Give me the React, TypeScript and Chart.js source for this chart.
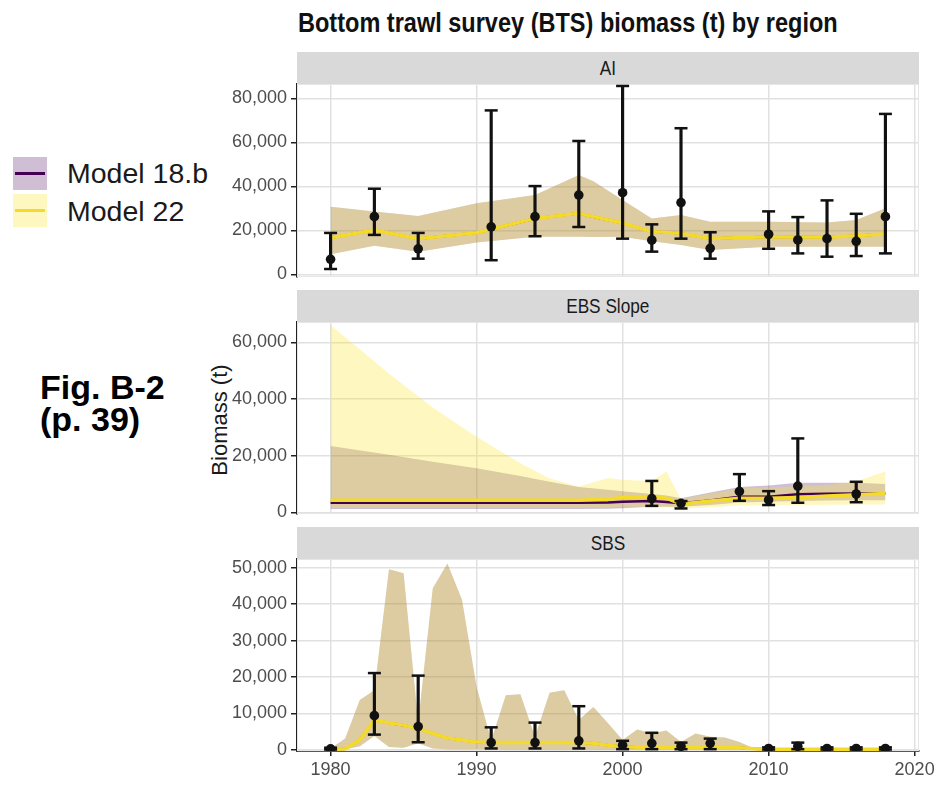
import React, { useEffect, useRef } from "react";
import { Chart, registerables } from "chart.js";

Chart.register(...registerables);

// ---------- Aleutian Islands (AI) ----------
const aiSurveyYears = [1980, 1983, 1986, 1991, 1994, 1997, 2000, 2002, 2004, 2006, 2010, 2012, 2014, 2016, 2018];
const aiSurveyBiomass = [6800, 26200, 11600, 21600, 26200, 36000, 37100, 15500, 32600, 11800, 18200, 15600, 16200, 15000, 26200];
const aiSurveyLow = [2400, 17900, 7100, 6400, 17300, 21500, 16200, 10300, 16200, 7100, 11600, 9500, 8000, 8300, 9500];
const aiSurveyHigh = [18800, 38900, 18800, 74500, 40100, 60600, 85600, 22700, 66400, 19100, 28600, 26000, 33600, 27500, 72900];

// The two model fits coincide in the AI region
const aiModelYears = [1980, 1983, 1986, 1990, 1994, 1997, 1998, 2000, 2002, 2004, 2006, 2010, 2014, 2016, 2018];
const aiModelFit = [16600, 20100, 16200, 18900, 25400, 27700, 26200, 23300, 19400, 18600, 16300, 17100, 16800, 17500, 18300];
const aiModelLow = [9100, 13000, 10300, 14400, 17100, 17100, 17000, 17100, 15000, 13300, 11000, 12500, 12500, 12500, 12500];
const aiModelHigh = [30700, 28500, 26500, 32300, 36000, 45100, 42300, 33800, 25400, 26900, 23900, 23900, 23600, 24700, 30000];

// ---------- Eastern Bering Sea slope ----------
const ebsSurveyYears = [2002, 2004, 2008, 2010, 2012, 2016];
const ebsSurveyBiomass = [4900, 3200, 7400, 4400, 9300, 6500];
const ebsSurveyLow = [2300, 1400, 4100, 2600, 3400, 3600];
const ebsSurveyHigh = [11100, 4000, 13500, 7500, 26100, 10800];

const ebsModelYears = [1980, 1984, 1987, 1990, 1993, 1995, 1997, 1999, 2000, 2002, 2003, 2004, 2006, 2008, 2010, 2012, 2014, 2016, 2018];
const ebsFit18b = [3400, 3400, 3400, 3400, 3400, 3400, 3400, 3500, 3800, 4000, 3700, 3200, 4200, 5500, 5500, 6400, 6600, 6700, 6700];
const ebsLow18b = [1200, 1200, 1200, 1200, 1200, 1200, 1200, 1300, 1500, 2000, 2000, 2000, 2600, 3500, 3800, 4000, 4200, 4300, 4300];
const ebsHigh18b = [23400, 20300, 17900, 15600, 12800, 10800, 9000, 8000, 7500, 6500, 6000, 5000, 7000, 9000, 9500, 10500, 10500, 10500, 10000];
const ebsFit22 = [4300, 4300, 4300, 4300, 4300, 4300, 4300, 4700, 5300, 5600, 5000, 3000, 4000, 5000, 5000, 5300, 5800, 6200, 6700];
const ebsLow22 = [1600, 1600, 1600, 1600, 1600, 1600, 1600, 1800, 2000, 2000, 1800, 1300, 1800, 2400, 2500, 2600, 2700, 2800, 2800];
const ebsHigh22 = [66100, 49000, 37000, 26700, 17300, 12000, 9100, 12100, 11500, 11000, 14400, 4600, 6700, 8500, 8800, 9200, 9600, 11000, 14400];

// ---------- Southern Bering Sea (SBS) ----------
const sbsSurveyYears = [1980, 1983, 1986, 1991, 1994, 1997, 2000, 2002, 2004, 2006, 2010, 2012, 2014, 2016, 2018];
const sbsSurveyBiomass = [300, 9400, 6400, 2000, 2000, 2500, 1300, 1800, 1000, 1800, 400, 1000, 400, 400, 400];
const sbsSurveyLow = [100, 4200, 2100, 400, 400, 400, 200, 200, 200, 200, 100, 200, 100, 100, 100];
const sbsSurveyHigh = [600, 21100, 20400, 6200, 7500, 12000, 2500, 4700, 2000, 3100, 700, 2000, 700, 700, 700];

// The two model fits coincide in the SBS region
const sbsModelYears = [1980, 1981, 1982, 1983, 1984, 1985, 1986, 1987, 1988, 1989, 1990, 1991, 1992, 1993, 1994, 1995, 1996, 1997, 1998, 1999, 2000, 2001, 2002, 2003, 2004, 2005, 2006, 2007, 2008, 2009, 2010, 2012, 2014, 2016, 2018];
const sbsModelFit = [0, 300, 2700, 8200, 7400, 6800, 5900, 4500, 3300, 2700, 2200, 2000, 2000, 2000, 2000, 2000, 2000, 2000, 1800, 1300, 900, 700, 700, 700, 700, 700, 700, 700, 600, 300, 200, 200, 200, 200, 200];
const sbsModelLow = [0, 200, 1000, 3800, 800, 600, 1800, 400, 200, 200, 200, 200, 100, 100, 100, 100, 100, 100, 100, 100, 100, 100, 100, 100, 100, 100, 100, 100, 100, 50, 50, 50, 50, 50, 50];
const sbsModelHigh = [400, 3100, 13700, 16400, 49600, 48500, 7500, 44400, 51200, 41200, 17300, 2600, 15000, 15300, 3600, 15700, 16400, 8200, 11800, 7300, 2700, 5600, 4500, 5300, 2200, 4500, 3600, 3400, 2200, 400, 300, 300, 300, 300, 300];

// ---------- Axis ticks ----------
const yearTicks = [1980, 1990, 2000, 2010, 2020];
const aiTicks = [0, 20000, 40000, 60000, 80000];
const ebsTicks = [0, 20000, 40000, 60000];
const sbsTicks = [0, 10000, 20000, 30000, 40000, 50000];

const legendLabels = ["Model 18.b", "Model 22"];

// ---------- Styling ----------
const FONT = "'Liberation Sans', Arial, Helvetica, sans-serif";
const PURPLE = "#440154";
const YELLOW = "#F3DA2B";
const PURPLE_FILL = "rgba(68,1,84,0.25)";
const YELLOW_FILL = "rgba(253,231,37,0.29)";
const INK = "#111111";
const GRID = "#e1e1e1";
const AXIS = "#222222";
const TICK_TEXT = "#4d4d4d";

const X_MIN = 1977.7;
const X_MAX = 2020.3;

const CANVAS_LEFT = 200;
const CANVAS_W = 740;
const Y_AXIS_W = 97;
const PAD_TOP = 16;
const PAD_RIGHT = 21;
const PAD_BOTTOM = 16;
const X_AXIS_H = 30;
const PAGE_W = 945;
const PAGE_H = 786;
const STRIP_H = 32;

type Series = { years: number[]; fit: number[]; low: number[]; high: number[] };
type Survey = { years: number[]; biomass: number[]; low: number[]; high: number[] };
type Region = {
  name: string;
  survey: Survey;
  model18b: Series;
  model22: Series;
  yTicks: number[];
  yMin: number;
  yMax: number;
};

const aiModel: Series = { years: aiModelYears, fit: aiModelFit, low: aiModelLow, high: aiModelHigh };
const sbsModel: Series = { years: sbsModelYears, fit: sbsModelFit, low: sbsModelLow, high: sbsModelHigh };

const regions: Region[] = [
  {
    name: "AI",
    survey: { years: aiSurveyYears, biomass: aiSurveyBiomass, low: aiSurveyLow, high: aiSurveyHigh },
    model18b: aiModel,
    model22: aiModel,
    yTicks: aiTicks,
    yMin: -1230,
    yMax: 86500,
  },
  {
    name: "EBS Slope",
    survey: { years: ebsSurveyYears, biomass: ebsSurveyBiomass, low: ebsSurveyLow, high: ebsSurveyHigh },
    model18b: { years: ebsModelYears, fit: ebsFit18b, low: ebsLow18b, high: ebsHigh18b },
    model22: { years: ebsModelYears, fit: ebsFit22, low: ebsLow22, high: ebsHigh22 },
    yTicks: ebsTicks,
    yMin: -560,
    yMax: 67160,
  },
  {
    name: "SBS",
    survey: { years: sbsSurveyYears, biomass: sbsSurveyBiomass, low: sbsSurveyLow, high: sbsSurveyHigh },
    model18b: sbsModel,
    model22: sbsModel,
    yTicks: sbsTicks,
    yMin: -300,
    yMax: 52420,
  },
];

// Plot-area boxes (page pixels) for the three facets
const plotBoxes = [
  { top: 84, bottom: 277 },
  { top: 322, bottom: 514 },
  { top: 559, bottom: 751 },
];

const panelFrame = {
  id: "panelFrame",
  beforeDatasetsDraw(chart: any) {
    const { ctx, chartArea: a } = chart;
    ctx.save();
    ctx.strokeStyle = "#e6e6e6";
    ctx.lineWidth = 1;
    ctx.strokeRect(a.left + 0.5, a.top + 0.5, a.width - 1, a.height - 1);
    ctx.restore();
  },
};

function buildConfig(region: Region, showX: boolean): any {
  const xy = (xs: number[], ys: number[]) => xs.map((x, i) => ({ x, y: ys[i] }));
  const hidden = "rgba(0,0,0,0)";
  const band = (s: Series, color: string, order: number) => [
    {
      type: "line",
      data: xy(s.years, s.high),
      fill: "+1",
      backgroundColor: color,
      borderColor: hidden,
      borderWidth: 0,
      pointRadius: 0,
      tension: 0,
      order,
    },
    {
      type: "line",
      data: xy(s.years, s.low),
      fill: false,
      borderColor: hidden,
      borderWidth: 0,
      pointRadius: 0,
      tension: 0,
      order,
    },
  ];
  const sv = region.survey;
  const caps = [...xy(sv.years, sv.low), ...xy(sv.years, sv.high)];

  return {
    type: "line",
    data: {
      datasets: [
        ...band(region.model18b, PURPLE_FILL, 10),
        ...band(region.model22, YELLOW_FILL, 9),
        {
          type: "line",
          data: xy(region.model18b.years, region.model18b.fit),
          borderColor: PURPLE,
          borderWidth: 2.5,
          pointRadius: 0,
          fill: false,
          order: 8,
        },
        {
          type: "line",
          data: xy(region.model22.years, region.model22.fit),
          borderColor: YELLOW,
          borderWidth: 3.5,
          pointRadius: 0,
          fill: false,
          order: 7,
        },
        {
          type: "bar",
          data: sv.years.map((x, i) => ({ x, y: [sv.low[i], sv.high[i]] })),
          backgroundColor: INK,
          borderWidth: 0,
          barThickness: 2.5,
          grouped: false,
          order: 3,
        },
        {
          type: "scatter",
          data: caps,
          pointStyle: "line",
          pointRadius: 6.5,
          pointBorderColor: INK,
          pointBorderWidth: 2.5,
          order: 2,
        },
        {
          type: "scatter",
          data: xy(sv.years, sv.biomass),
          pointRadius: 4.8,
          pointBackgroundColor: INK,
          pointBorderColor: INK,
          pointBorderWidth: 0,
          order: 1,
        },
      ],
    },
    options: {
      responsive: false,
      maintainAspectRatio: false,
      animation: false,
      events: [],
      layout: {
        padding: { top: PAD_TOP, right: PAD_RIGHT, bottom: showX ? 5 : PAD_BOTTOM, left: 0 },
      },
      plugins: { legend: { display: false }, tooltip: { enabled: false } },
      scales: {
        x: {
          type: "linear",
          min: X_MIN,
          max: X_MAX,
          offset: false,
          afterBuildTicks: (s: any) => {
            s.ticks = yearTicks.map((v) => ({ value: v }));
          },
          afterFit: (s: any) => {
            if (showX) s.height = X_AXIS_H;
          },
          grid: {
            offset: false,
            color: GRID,
            lineWidth: 1.5,
            drawTicks: showX,
            tickLength: 5,
            tickColor: AXIS,
            tickWidth: 1.5,
          },
          border: { display: showX, color: AXIS, width: 1.8 },
          ticks: {
            display: showX,
            padding: 3,
            color: TICK_TEXT,
            font: { family: FONT, size: 18 },
            maxRotation: 0,
            autoSkip: false,
            callback: (v: any) => String(v),
          },
        },
        y: {
          type: "linear",
          min: region.yMin,
          max: region.yMax,
          afterBuildTicks: (s: any) => {
            s.ticks = region.yTicks.map((v) => ({ value: v }));
          },
          afterFit: (s: any) => {
            s.width = Y_AXIS_W;
          },
          grid: {
            color: GRID,
            lineWidth: 1.5,
            tickLength: 6,
            tickColor: AXIS,
            tickWidth: 1.5,
          },
          border: { color: AXIS, width: 1.8 },
          ticks: {
            padding: 4,
            color: TICK_TEXT,
            font: { family: FONT, size: 18 },
            callback: (v: any) => Number(v).toLocaleString("en-US"),
          },
        },
      },
    },
    plugins: [panelFrame],
  };
}

function Panel({ region, box, showX }: { region: Region; box: { top: number; bottom: number }; showX: boolean }) {
  const ref = useRef<HTMLCanvasElement>(null);
  const top = box.top - PAD_TOP;
  const height = (showX ? PAGE_H : box.bottom + PAD_BOTTOM) - top;

  useEffect(() => {
    if (!ref.current) return;
    const chart = new Chart(ref.current, buildConfig(region, showX));
    return () => chart.destroy();
  }, [region, showX]);

  return (
    <canvas
      ref={ref}
      width={CANVAS_W}
      height={height}
      style={{ position: "absolute", left: CANVAS_LEFT, top, width: CANVAS_W, height }}
    />
  );
}

function Strip({ label, bottom }: { label: string; bottom: number }) {
  const left = CANVAS_LEFT + Y_AXIS_W;
  const right = CANVAS_LEFT + CANVAS_W - PAD_RIGHT;
  return (
    <div
      style={{
        position: "absolute",
        left,
        top: bottom - STRIP_H,
        width: right - left,
        height: STRIP_H,
        background: "#d9d9d9",
        display: "flex",
        alignItems: "center",
        justifyContent: "center",
      }}
    >
      <span
        style={{
          fontFamily: FONT,
          fontSize: 21,
          color: "#1a1a1a",
          display: "inline-block",
          transform: "scaleX(0.82)",
          whiteSpace: "nowrap",
        }}
      >
        {label}
      </span>
    </div>
  );
}

export default function App() {
  return (
    <div
      style={{
        position: "fixed",
        left: 0,
        top: 0,
        width: PAGE_W,
        height: PAGE_H,
        overflow: "hidden",
        background: "#ffffff",
        fontFamily: FONT,
      }}
    >
      <div
        style={{
          position: "absolute",
          left: 298,
          top: 9,
          fontSize: 28,
          lineHeight: "28px",
          fontWeight: 700,
          color: "#111",
          whiteSpace: "nowrap",
          transform: "scaleX(0.84)",
          transformOrigin: "left center",
        }}
      >
        Bottom trawl survey (BTS) biomass (t) by region
      </div>

      {/* legend */}
      {legendLabels.map((label, i) => (
        <React.Fragment key={label}>
          <div
            style={{
              position: "absolute",
              left: 13,
              top: i === 0 ? 157 : 194,
              width: 34,
              height: 33,
              background: i === 0 ? PURPLE_FILL : YELLOW_FILL,
            }}
          >
            <div
              style={{
                position: "absolute",
                left: 2,
                right: 2,
                top: 15,
                height: 3,
                background: i === 0 ? PURPLE : YELLOW,
              }}
            />
          </div>
          <div
            style={{
              position: "absolute",
              left: 67,
              top: i === 0 ? 159 : 197,
              fontSize: 28.5,
              lineHeight: "28.5px",
              color: "#1a1a1a",
              whiteSpace: "nowrap",
            }}
          >
            {label}
          </div>
        </React.Fragment>
      ))}

      <div
        style={{
          position: "absolute",
          left: 40,
          top: 371,
          fontSize: 34,
          lineHeight: "32px",
          fontWeight: 700,
          color: "#000",
          whiteSpace: "nowrap",
        }}
      >
        Fig. B-2
        <br />
        (p. 39)
      </div>

      <div
        style={{
          position: "absolute",
          left: 220,
          top: 420,
          fontSize: 22,
          color: "#1a1a1a",
          whiteSpace: "nowrap",
          transform: "translate(-50%, -50%) rotate(-90deg)",
        }}
      >
        Biomass (t)
      </div>

      {regions.map((r, i) => (
        <Panel key={r.name} region={r} box={plotBoxes[i]} showX={i === regions.length - 1} />
      ))}
      {regions.map((r, i) => (
        <Strip key={r.name} label={r.name} bottom={plotBoxes[i].top} />
      ))}
    </div>
  );
}
